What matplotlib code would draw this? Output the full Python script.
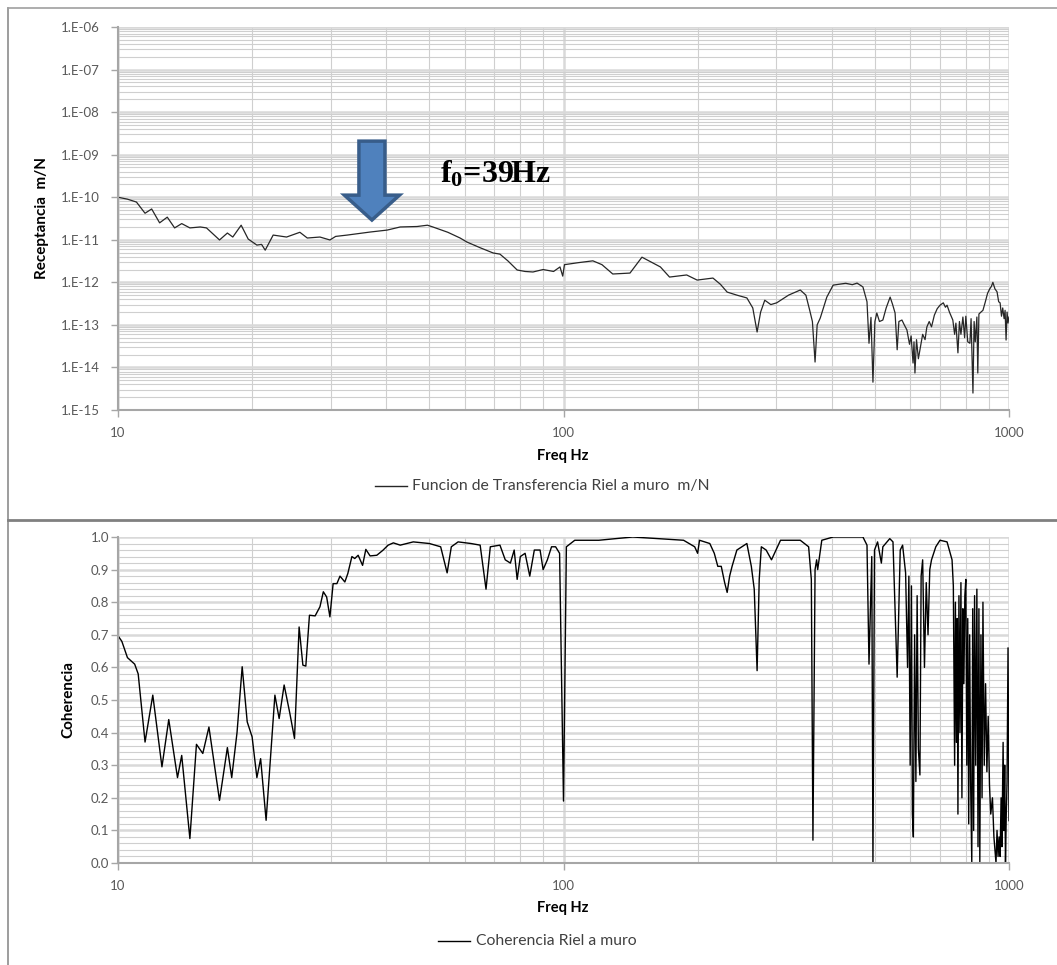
import math
import matplotlib
matplotlib.use("Agg")
import matplotlib.pyplot as plt
from matplotlib.lines import Line2D
from matplotlib.patches import Polygon
from matplotlib.ticker import LogLocator, FixedLocator, MultipleLocator, FuncFormatter, NullFormatter

plt.rcParams['font.family'] = ['Lato', 'DejaVu Sans']
plt.rcParams['mathtext.fontset'] = 'custom'
plt.rcParams['mathtext.rm'] = 'Liberation Serif:bold'
plt.rcParams['mathtext.bf'] = 'Liberation Serif:bold'
plt.rcParams['mathtext.it'] = 'Liberation Serif:bold'

# ---------------- data ----------------
freq_recep = [10, 10.5, 11.0, 11.5, 11.9, 12.4, 12.9, 13.4, 13.9, 14.5, 15.3, 15.8, 16.9, 17.6,
              18.1, 18.9, 19.6, 20.5, 21.0, 21.4, 22.3, 23.9, 25.6, 26.6, 28.4, 29.9, 30.8,
              32.7, 36.8, 40.2, 43.0, 46.9, 49.5, 50.9, 55, 58.6, 60.7, 65, 69.5, 72.0, 75,
              78.7, 82, 85.4, 90, 95, 98.2, 99.6, 100.5, 108, 116.4, 122, 129, 141, 150, 165,
              173, 189, 199.5, 216.5, 225, 233, 245, 258, 266, 272, 277, 283, 292, 301, 320,
              340, 350, 357, 362, 367, 371, 377, 390, 403, 430, 445, 456, 470, 480, 485, 490,
              495, 500, 505, 512, 521, 530, 541, 548, 555, 561, 566, 575, 582, 590, 598, 603,
              609, 612, 615, 620, 626, 631, 640, 648, 654, 662, 670, 680, 690, 700, 712, 720,
              726, 735, 748, 755, 760, 768, 774, 780, 788, 795, 800, 808, 817, 822, 830, 835,
              840, 847, 851, 856, 865, 874, 885, 895, 905, 913, 920, 930, 940, 948, 955, 962,
              968, 975, 980, 985, 990, 995, 1000]
receptancia = [1.0e-10, 9.0e-11, 7.7e-11, 4.2e-11, 5.3e-11, 2.5e-11, 3.4e-11, 1.9e-11, 2.4e-11,
               1.9e-11, 2.0e-11, 1.9e-11, 9.9e-12, 1.44e-11, 1.16e-11, 2.2e-11, 1.04e-11,
               7.5e-12, 7.8e-12, 5.7e-12, 1.29e-11, 1.16e-11, 1.5e-11, 1.1e-11, 1.16e-11,
               9.9e-12, 1.2e-11, 1.29e-11, 1.52e-11, 1.69e-11, 2.0e-11, 2.05e-11, 2.2e-11,
               2.0e-11, 1.5e-11, 1.1e-11, 8.85e-12, 6.5e-12, 4.9e-12, 4.6e-12, 3.2e-12,
               1.95e-12, 1.8e-12, 1.75e-12, 2.0e-12, 1.8e-12, 2.3e-12, 1.4e-12, 2.6e-12,
               2.9e-12, 3.2e-12, 2.6e-12, 1.57e-12, 1.65e-12, 3.9e-12, 2.3e-12, 1.33e-12,
               1.49e-12, 1.13e-12, 1.26e-12, 9.0e-13, 5.9e-13, 5.0e-13, 4.3e-13, 2.5e-13,
               6.8e-14, 2.0e-13, 3.8e-13, 3.0e-13, 3.3e-13, 5.0e-13, 6.6e-13, 5.0e-13,
               2.2e-13, 1.2e-13, 1.34e-14, 1.0e-13, 1.45e-13, 4.5e-13, 8.6e-13, 9.5e-13,
               8.8e-13, 9.6e-13, 7.8e-13, 3.5e-13, 3.7e-14, 1.5e-13, 4.5e-15, 1.2e-13,
               1.9e-13, 1.2e-13, 1.3e-13, 2.5e-13, 4.5e-13, 3.0e-13, 1.9e-13, 2.6e-14,
               1.2e-13, 1.3e-13, 1.0e-13, 7.6e-14, 3.5e-14, 5.5e-14, 1.27e-14, 4.0e-14,
               7.4e-15, 4.5e-14, 1.6e-14, 2.6e-14, 6.0e-14, 4.5e-14, 8.9e-14, 1.2e-13,
               9.0e-14, 1.7e-13, 2.4e-13, 2.9e-13, 3.3e-13, 2.6e-13, 2.9e-13, 2.0e-13,
               1.3e-13, 6.0e-14, 1.1e-13, 2.2e-14, 1.2e-13, 6.0e-14, 1.53e-13, 5.0e-14,
               1.6e-13, 4.0e-14, 3.7e-14, 1.4e-13, 2.5e-15, 1.2e-13, 4.0e-14, 1.53e-13,
               7.4e-15, 1.8e-13, 2.0e-13, 2.2e-13, 3.5e-13, 5.5e-13, 7.0e-13, 8.0e-13,
               1.0e-12, 7.0e-13, 6.0e-13, 3.5e-13, 3.3e-13, 1.6e-13, 2.5e-13, 1.4e-13,
               2.2e-13, 4.4e-14, 2.0e-13, 1.1e-13, 1.53e-13]

freq_coh = [10, 10.2, 10.5, 10.9, 11.1, 11.5, 11.97, 12.55, 13.0, 13.6, 13.9, 14.5, 15.0, 15.5,
            16.0, 16.9, 17.6, 18.0, 18.5, 19.0, 19.5, 20.0, 20.5, 20.9, 21.5, 22.2, 22.5, 23.0,
            23.6, 24.3, 24.9, 25.5, 26.0, 26.4, 26.9, 27.7, 28.4, 28.9, 29.4, 29.9, 30.4, 31.0,
            31.5, 32.3, 32.8, 33.5, 34.0, 34.6, 35.4, 36.0, 36.8, 38.1, 39.3, 40.4, 41.5, 43.0,
            46, 50, 53, 54.8, 56, 58, 62, 65, 67, 68.5, 72, 74, 76, 77.5, 78.7, 80, 82, 84, 86,
            88.6, 90, 92, 94, 96, 98, 100, 101.5, 106, 120, 143, 186, 197, 200, 202, 213, 218,
            222, 226, 230, 233, 236, 239, 245, 258, 264, 268, 272, 275, 278, 285, 293, 307,
            340, 355, 360, 363, 367, 370, 372, 380, 403, 470, 480, 485, 492, 495, 499, 507,
            517, 521, 540, 549, 561, 570, 577, 586, 592, 596, 600, 604, 607, 610, 614, 618,
            622, 626, 631, 635, 640, 646, 652, 658, 664, 670, 685, 700, 726, 745, 750, 755,
            758, 762, 765, 768, 772, 776, 780, 784, 788, 792, 796, 800, 804, 808, 812, 816,
            820, 825, 829, 833, 837, 842, 847, 852, 856, 860, 865, 870, 874, 880, 886, 892,
            898, 904, 910, 918, 925, 930, 935, 940, 945, 950, 955, 960, 964, 970, 974, 978,
            982, 986, 990, 995, 1000]
coherencia = [0.697, 0.68, 0.63, 0.61, 0.58, 0.371, 0.515, 0.295, 0.44, 0.262, 0.33, 0.075,
              0.364, 0.336, 0.417, 0.192, 0.354, 0.262, 0.40, 0.602, 0.433, 0.387, 0.262, 0.32,
              0.131, 0.40, 0.515, 0.443, 0.546, 0.46, 0.382, 0.724, 0.607, 0.604, 0.76, 0.758,
              0.786, 0.832, 0.816, 0.755, 0.857, 0.857, 0.88, 0.862, 0.888, 0.94, 0.934, 0.944,
              0.913, 0.962, 0.942, 0.944, 0.959, 0.975, 0.982, 0.975, 0.985, 0.98, 0.97, 0.89,
              0.97, 0.985, 0.98, 0.975, 0.84, 0.97, 0.975, 0.93, 0.92, 0.96, 0.87, 0.94, 0.95,
              0.88, 0.96, 0.96, 0.9, 0.93, 0.97, 0.97, 0.95, 0.19, 0.97, 0.99, 0.99, 1.0, 0.99,
              0.97, 0.95, 0.99, 0.98, 0.95, 0.91, 0.91, 0.86, 0.83, 0.88, 0.91, 0.96, 0.98,
              0.91, 0.84, 0.59, 0.87, 0.97, 0.96, 0.93, 0.99, 0.99, 0.97, 0.87, 0.07, 0.90,
              0.93, 0.90, 0.99, 1.0, 1.0, 0.975, 0.61, 0.94, 0.0, 0.96, 0.985, 0.92, 0.97,
              0.995, 0.985, 0.57, 0.96, 0.975, 0.89, 0.6, 0.88, 0.3, 0.85, 0.15, 0.08, 0.7,
              0.25, 0.82, 0.35, 0.27, 0.88, 0.93, 0.6, 0.86, 0.70, 0.9, 0.93, 0.97, 0.99, 0.985,
              0.93, 0.85, 0.3, 0.8, 0.37, 0.75, 0.15, 0.82, 0.4, 0.86, 0.2, 0.78, 0.55, 0.82,
              0.87, 0.3, 0.75, 0.12, 0.7, 0.25, 0.0, 0.78, 0.1, 0.82, 0.3, 0.84, 0.05, 0.78,
              0.0, 0.7, 0.2, 0.80, 0.3, 0.55, 0.28, 0.45, 0.24, 0.15, 0.2, 0.08, 0.04, 0.0,
              0.1, 0.02, 0.08, 0.02, 0.2, 0.05, 0.37, 0.1, 0.3, 0.0, 0.15, 0.25, 0.66, 0.13]

recep_ticks = [1e-15, 1e-14, 1e-13, 1e-12, 1e-11, 1e-10, 1e-9, 1e-8, 1e-7, 1e-6]
freq_ticks = [10, 100, 1000]
freq_ticklabels = ['10', '100', '1000']
coh_ticks = [0.0, 0.1, 0.2, 0.3, 0.4, 0.5, 0.6, 0.7, 0.8, 0.9, 1.0]

legend_top = 'Funcion de Transferencia Riel a muro  m/N'
legend_bot = 'Coherencia Riel a muro'

# ---------------- figure ----------------
W, H = 1057, 965
fig = plt.figure(figsize=(W / 100, H / 100), dpi=100)


def fx(x):
    return x / W


def fy(y):
    return 1 - y / H


ax1 = fig.add_axes([fx(118), fy(410), fx(1009) - fx(118), fy(27) - fy(410)])
ax2 = fig.add_axes([fx(118), fy(863), fx(1009) - fx(118), fy(537) - fy(863)])

TICK_COLOR = '#595959'
SPINE = '#a6a6a6'

for ax in (ax1, ax2):
    ax.set_xscale('log')
    ax.set_xlim(10, 1000)
    ax.xaxis.set_major_locator(FixedLocator(freq_ticks))
    ax.set_xticklabels(freq_ticklabels)
    ax.xaxis.set_minor_locator(LogLocator(base=10, subs=range(2, 10)))
    ax.xaxis.set_minor_formatter(NullFormatter())
    ax.set_axisbelow(True)
    for s in ('top', 'right'):
        ax.spines[s].set_visible(False)
    for s in ('left', 'bottom'):
        ax.spines[s].set_color(SPINE)
        ax.spines[s].set_linewidth(1.5)
    ax.tick_params(which='major', direction='out', length=5, width=1, color=SPINE,
                   labelcolor=TICK_COLOR, labelsize=9.5)
    ax.tick_params(which='minor', length=0)
    ax.tick_params(axis='x', pad=7)
    ax.grid(which='major', color='#d9d9d9', linewidth=1.8)
    ax.grid(which='minor', color='#cfcfcf', linewidth=0.8)

# top panel
ax1.plot(freq_recep, receptancia, color='#262626', linewidth=0.9)
ax1.set_yscale('log')
ax1.set_ylim(1e-15, 1e-6)
ax1.yaxis.set_major_locator(FixedLocator(recep_ticks))
ax1.yaxis.set_major_formatter(FuncFormatter(lambda v, p: '1.E%+03d' % round(math.log10(v))))
ax1.yaxis.set_minor_locator(LogLocator(base=10, subs=range(2, 10), numticks=20))
ax1.yaxis.set_minor_formatter(NullFormatter())
ax1.tick_params(axis='y', pad=8)

# arrow (axes fraction)
cx, sw, hw = 0.285, 0.0146, 0.0309
top, head, tip = 0.702, 0.561, 0.496
arrow = Polygon([(cx - sw, top), (cx + sw, top), (cx + sw, head), (cx + hw, head), (cx, tip),
                 (cx - hw, head), (cx - sw, head)], closed=True, transform=ax1.transAxes,
                facecolor='#4F81BD', edgecolor='#385D8A', linewidth=2.5, zorder=5)
ax1.add_patch(arrow)
ax1.text(0.361, 0.593, r'$\mathbf{f_0}$' + '=39Hz', transform=ax1.transAxes,
         fontsize=23, fontweight='bold', family='Liberation Serif', va='baseline', ha='left',
         color='black', zorder=6)

# bottom panel
ax2.plot(freq_coh, coherencia, color='black', linewidth=1.0)
ax2.set_ylim(0, 1.0)
ax2.yaxis.set_major_locator(FixedLocator(coh_ticks))
ax2.yaxis.set_major_formatter(FuncFormatter(lambda v, p: '%.1f' % v))
ax2.yaxis.set_minor_locator(MultipleLocator(0.02))
ax2.tick_params(axis='y', pad=1.5)

# axis titles
fig.text(fx(563), fy(456), 'Freq Hz', ha='center', va='center', fontsize=10.5, fontweight='bold')
fig.text(fx(563), fy(908), 'Freq Hz', ha='center', va='center', fontsize=10.5, fontweight='bold')
fig.text(fx(42), fy(218), 'Receptancia  m/N', ha='center', va='center', rotation=90,
         fontsize=11, fontweight='bold')
fig.text(fx(68), fy(700), 'Coherencia', ha='center', va='center', rotation=90,
         fontsize=11, fontweight='bold')

# legends
fig.add_artist(Line2D([fx(375), fx(407)], [fy(486), fy(486)], color='#262626', linewidth=1,
                      transform=fig.transFigure))
fig.text(fx(412), fy(486), legend_top, ha='left', va='center', fontsize=11.3, color='#404040')
fig.add_artist(Line2D([fx(438), fx(470)], [fy(941), fy(941)], color='black', linewidth=1,
                      transform=fig.transFigure))
fig.text(fx(476), fy(941), legend_bot, ha='left', va='center', fontsize=11.3, color='#404040')

# chart frames
fig.add_artist(Line2D([fx(8), fx(8)], [fy(8), fy(965)], color='#8c8c8c', linewidth=1.2,
                      transform=fig.transFigure))
fig.add_artist(Line2D([fx(8), fx(1057)], [fy(8), fy(8)], color='#a0a0a0', linewidth=1.2,
                      transform=fig.transFigure))
fig.add_artist(Line2D([fx(8), fx(1057)], [fy(520), fy(520)], color='#808080', linewidth=2,
                      transform=fig.transFigure))

fig.savefig('out.png', dpi=100)
